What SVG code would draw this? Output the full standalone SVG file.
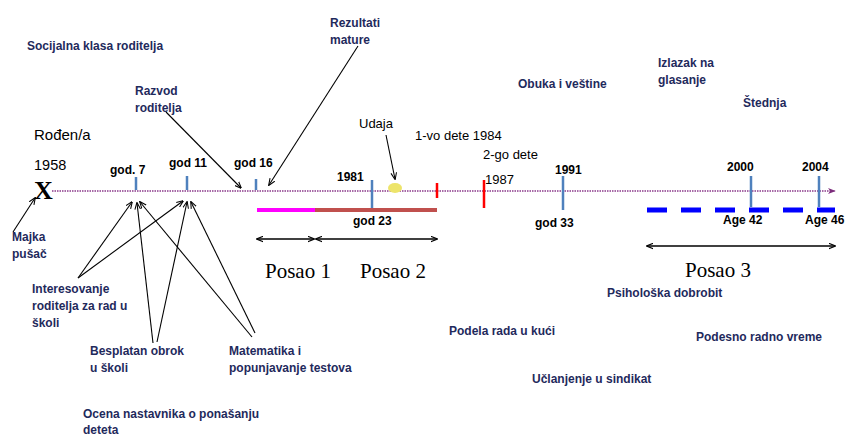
<svg xmlns="http://www.w3.org/2000/svg" width="845" height="438" viewBox="0 0 845 438">
<style>
.lbl{font-family:"Liberation Sans",Arial,sans-serif;font-size:12px;font-weight:bold;fill:#1F2A5C}
.yr{font-family:"Liberation Sans",Arial,sans-serif;font-size:12px;font-weight:bold;fill:#000}
.reg{font-family:"Liberation Sans",Arial,sans-serif;font-size:13px;fill:#000}
.ser{font-family:"Liberation Serif","Times New Roman",serif;font-size:21px;fill:#000}
.tick{stroke:#4F81BD;stroke-width:2.5}
.red{stroke:#FF0000;stroke-width:2.5}
.con{stroke:#000;stroke-width:1.1;fill:none}
</style>
<defs>
<marker id="ah" viewBox="0 0 10 10" refX="9" refY="5" markerWidth="7" markerHeight="7" orient="auto-start-reverse" markerUnits="userSpaceOnUse">
<path d="M0,1 L10,5 L0,9" fill="none" stroke="#000" stroke-width="1.5"/>
</marker>
<marker id="ahp" viewBox="0 0 10 10" refX="9" refY="5" markerWidth="8" markerHeight="8" orient="auto" markerUnits="userSpaceOnUse">
<path d="M0,1 L10,5 L0,9 L3,5 Z" fill="#7B2C7B"/>
</marker>
</defs>
<rect width="845" height="438" fill="#fff"/>

<g id="timeline">
<line x1="52" y1="191" x2="835" y2="191" stroke="#8B3A8B" stroke-width="1.5" stroke-dasharray="1.5,1" marker-end="url(#ahp)"/>
</g>

<g id="birth">
<text x="34" y="199" font-family="'Liberation Serif',serif" font-weight="bold" font-size="26" fill="#000">X</text>
<text x="34" y="140" font-family="'Liberation Sans',Arial,sans-serif" font-size="15" fill="#000">Rođen/a</text>
<text x="34" y="170" font-family="'Liberation Sans',Arial,sans-serif" font-size="14.5" fill="#000">1958</text>
</g>

<g id="ticks">
<line class="tick" x1="136" y1="177" x2="136" y2="190"/>
<line class="tick" x1="187" y1="176" x2="187" y2="190"/>
<line class="tick" x1="256" y1="179" x2="256" y2="190"/>
<line class="tick" x1="372" y1="180" x2="372" y2="210"/>
<line class="tick" x1="563" y1="176" x2="563" y2="210"/>
<line class="tick" x1="751" y1="176" x2="751" y2="207"/>
<line class="tick" x1="819" y1="176" x2="819" y2="207"/>
<line class="red" x1="437" y1="183" x2="437" y2="198"/>
<line class="red" x1="484" y1="180" x2="484" y2="208"/>
<ellipse cx="395" cy="188" rx="7" ry="5" fill="#EDE46A"/>
</g>

<g id="tick-labels">
<text class="yr" x="110" y="174">god. 7</text>
<text class="yr" x="169" y="167">god 11</text>
<text class="yr" x="234" y="167">god 16</text>
<text class="yr" x="337" y="181">1981</text>
<text class="yr" x="353" y="225">god 23</text>
<text class="yr" x="555" y="174">1991</text>
<text class="yr" x="535" y="227">god 33</text>
<text class="yr" x="727" y="171">2000</text>
<text class="yr" x="802" y="171">2004</text>
<text class="yr" x="723" y="224">Age 42</text>
<text class="yr" x="805" y="224">Age 46</text>
<text class="reg" x="359" y="128">Udaja</text>
<text class="reg" x="415" y="140">1-vo dete 1984</text>
<text class="reg" x="483" y="159">2-go dete</text>
<text class="reg" x="485" y="184">1987</text>
</g>

<g id="jobs">
<line x1="257" y1="210" x2="315" y2="210" stroke="#FF00FF" stroke-width="4"/>
<line x1="315" y1="210" x2="437" y2="210" stroke="#C0504D" stroke-width="4"/>
<line x1="647" y1="210" x2="835" y2="210" stroke="#0000FF" stroke-width="5" stroke-dasharray="20,14"/>
<text class="ser" x="265" y="278">Posao 1</text>
<text class="ser" x="360" y="278">Posao 2</text>
<text class="ser" x="685" y="277">Posao 3</text>
</g>

<g id="labels">
<text class="lbl" x="27" y="50">Socijalna klasa roditelja</text>
<text class="lbl" x="135" y="95">Razvod</text>
<text class="lbl" x="135" y="112">roditelja</text>
<text class="lbl" x="330" y="27">Rezultati</text>
<text class="lbl" x="330" y="44">mature</text>
<text class="lbl" x="518" y="88">Obuka i veštine</text>
<text class="lbl" x="658" y="67">Izlazak na</text>
<text class="lbl" x="658" y="84">glasanje</text>
<text class="lbl" x="743" y="107">Štednja</text>
<text class="lbl" x="12" y="241">Majka</text>
<text class="lbl" x="12" y="258">pušač</text>
<text class="lbl" x="32" y="293">Interesovanje</text>
<text class="lbl" x="32" y="310">roditelja za rad u</text>
<text class="lbl" x="32" y="327">školi</text>
<text class="lbl" x="90" y="355">Besplatan obrok</text>
<text class="lbl" x="90" y="372">u školi</text>
<text class="lbl" x="229" y="355">Matematika i</text>
<text class="lbl" x="229" y="372">popunjavanje testova</text>
<text class="lbl" x="83" y="418">Ocena nastavnika o ponašanju</text>
<text class="lbl" x="83" y="434">deteta</text>
<text class="lbl" x="607" y="297">Psihološka dobrobit</text>
<text class="lbl" x="449" y="335">Podela rada u kući</text>
<text class="lbl" x="696" y="341">Podesno radno vreme</text>
<text class="lbl" x="532" y="383">Učlanjenje u sindikat</text>
</g>

<g id="connectors">
<line class="con" x1="166" y1="112" x2="241" y2="188" marker-end="url(#ah)"/>
<line class="con" x1="358" y1="46" x2="269" y2="185" marker-end="url(#ah)"/>
<line class="con" x1="386" y1="135" x2="395" y2="179" marker-end="url(#ah)"/>
<line class="con" x1="13" y1="232" x2="35" y2="198" marker-end="url(#ah)"/>
<line class="con" x1="78" y1="278" x2="132" y2="202" marker-end="url(#ah)"/>
<line class="con" x1="78" y1="278" x2="183" y2="201" marker-end="url(#ah)"/>
<line class="con" x1="153" y1="343" x2="137" y2="203" marker-end="url(#ah)"/>
<line class="con" x1="157" y1="342" x2="187" y2="202" marker-end="url(#ah)"/>
<line class="con" x1="252" y1="337" x2="140" y2="202" marker-end="url(#ah)"/>
<line class="con" x1="255" y1="333" x2="191" y2="202" marker-end="url(#ah)"/>
<line x1="257" y1="239" x2="314" y2="239" stroke="#000" stroke-width="1.5" marker-start="url(#ah)" marker-end="url(#ah)"/>
<line x1="316" y1="239" x2="437" y2="239" stroke="#000" stroke-width="1.5" marker-start="url(#ah)" marker-end="url(#ah)"/>
<line x1="647" y1="246" x2="835" y2="246" stroke="#000" stroke-width="1.5" marker-start="url(#ah)" marker-end="url(#ah)"/>
</g>
</svg>
